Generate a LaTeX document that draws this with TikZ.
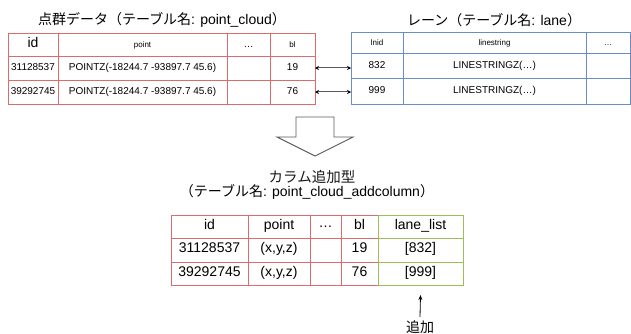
\documentclass[tikz,border=0pt]{standalone}
\usepackage{fontspec}
\setmainfont{Liberation Sans}
\newfontfamily\jp{Noto Sans CJK JP}
\usetikzlibrary{arrows.meta}
\definecolor{pcred}{RGB}{218,108,108}
\definecolor{laneblue}{RGB}{104,140,198}
\definecolor{addgreen}{RGB}{155,190,90}
\definecolor{arrowgray}{RGB}{90,90,90}
\newcommand{\pxf}[1]{\fontsize{#1}{#1}\selectfont}

\begin{document}
\begin{tikzpicture}[x=1pt, y=-1pt,
    cell/.style={draw, anchor=north west, inner sep=0pt, outer sep=0pt,
        line width=0.9pt, text height=0.72em, text depth=0.2em},
    title/.style={font=\pxf{14}},
    link/.style={arrowgray, line width=1pt, {Stealth[length=4pt,width=4pt,black]}-{Stealth[length=4pt,width=4pt,black]}}
]
\useasboundingbox (0,0) rectangle (631,334);

% point_cloud table
\node[title] (pc-title) at (162,20) {{\jp 点群データ（テーブル名}: point\_cloud{\jp ）}};
\node[cell, draw=pcred, minimum width=50, minimum height=23, font=\pxf{14}] (pc-id0) at (8,33) {id};
\node[cell, draw=pcred, minimum width=169, minimum height=23, font=\pxf{8}] (pc-pt0) at (58,33) {point};
\node[cell, draw=pcred, minimum width=43, minimum height=23, font=\pxf{10}] (pc-etc0) at (227,33) {\dots};
\node[cell, draw=pcred, minimum width=45, minimum height=23, font=\pxf{8}] (pc-bl0) at (270,33) {bl};
\node[cell, draw=pcred, minimum width=50, minimum height=24, font=\pxf{10}] (pc-id1) at (8,56) {31128537};
\node[cell, draw=pcred, minimum width=169, minimum height=24, font=\pxf{10}] (pc-pt1) at (58,56) {POINTZ(-18244.7 -93897.7 45.6)};
\node[cell, draw=pcred, minimum width=43, minimum height=24] (pc-etc1) at (227,56) {};
\node[cell, draw=pcred, minimum width=45, minimum height=24, font=\pxf{10}] (pc-bl1) at (270,56) {19};
\node[cell, draw=pcred, minimum width=50, minimum height=24, font=\pxf{10}] (pc-id2) at (8,80) {39292745};
\node[cell, draw=pcred, minimum width=169, minimum height=24, font=\pxf{10}] (pc-pt2) at (58,80) {POINTZ(-18244.7 -93897.7 45.6)};
\node[cell, draw=pcred, minimum width=43, minimum height=24] (pc-etc2) at (227,80) {};
\node[cell, draw=pcred, minimum width=45, minimum height=24, font=\pxf{10}] (pc-bl2) at (270,80) {76};

% lane table
\node[title] (ln-title) at (494,20) {{\jp レーン（テーブル名}: lane{\jp ）}};
\node[cell, draw=laneblue, minimum width=52, minimum height=21, font=\pxf{8}] (ln-id0) at (351,32) {lnid};
\node[cell, draw=laneblue, minimum width=183, minimum height=21, font=\pxf{8}] (ln-ls0) at (403,32) {linestring};
\node[cell, draw=laneblue, minimum width=44, minimum height=21, font=\pxf{8}] (ln-etc0) at (586,32) {\dots};
\node[cell, draw=laneblue, minimum width=52, minimum height=25, font=\pxf{10}] (ln-id1) at (351,53) {832};
\node[cell, draw=laneblue, minimum width=183, minimum height=25, font=\pxf{10}] (ln-ls1) at (403,53) {LINESTRINGZ(\dots)};
\node[cell, draw=laneblue, minimum width=44, minimum height=25] (ln-etc1) at (586,53) {};
\node[cell, draw=laneblue, minimum width=52, minimum height=26, font=\pxf{10}] (ln-id2) at (351,78) {999};
\node[cell, draw=laneblue, minimum width=183, minimum height=26, font=\pxf{10}] (ln-ls2) at (403,78) {LINESTRINGZ(\dots)};
\node[cell, draw=laneblue, minimum width=44, minimum height=26] (ln-etc2) at (586,78) {};

% joins
\draw[link] (pc-bl1.east) -- (pc-bl1.east -| ln-id1.west);
\draw[link] (pc-bl2.east) -- (pc-bl2.east -| ln-id2.west);

% block arrow
\draw[arrowgray, line width=0.9pt, fill=white]
    (296,117) -- (334,117) -- (334,137) -- (353,137) -- (315,156)
    -- (277,137) -- (296,137) -- cycle;

% addcolumn table
\node[font=\pxf{14.5}, text=black!90] (ac-title) at (312,177) {\jp カラム追加型};
\node[title] (ac-sub) at (307,192) {{\jp （テーブル名}: point\_cloud\_addcolumn{\jp ）}};
\foreach \r/\y/\h/\a/\b/\c in {0/215/23/id/point/bl, 1/238/24/31128537/{(x,y,z)}/19, 2/262/23/39292745/{(x,y,z)}/76} {
  \node[cell, draw=pcred, minimum width=77, minimum height=\h, font=\pxf{14}] (ac-id\r) at (171,\y) {\a};
  \node[cell, draw=pcred, minimum width=62, minimum height=\h, font=\pxf{14}] (ac-pt\r) at (248,\y) {\b};
  \node[cell, draw=pcred, minimum width=31, minimum height=\h, font=\pxf{14}] (ac-etc\r) at (310,\y) {};
  \node[cell, draw=pcred, minimum width=37, minimum height=\h, font=\pxf{14}] (ac-bl\r) at (341,\y) {\c};
}
\node[font=\pxf{14}] at (ac-etc0) {\dots};
\foreach \r/\y/\h/\t in {0/215/23/lane\_list, 1/238/24/[832], 2/262/23/[999]}
  \node[cell, draw=addgreen, minimum width=85, minimum height=\h, font=\pxf{14}] (ac-ll\r) at (378,\y) {\t};

% added column note
\node[font=\pxf{14}] (add) at (420,327) {\jp 追加};
\draw[-{Stealth[length=5pt,width=4pt]}, line width=0.8pt] (add.north) -- ([yshift=-10pt]ac-ll2.south);
\end{tikzpicture}
\end{document}
